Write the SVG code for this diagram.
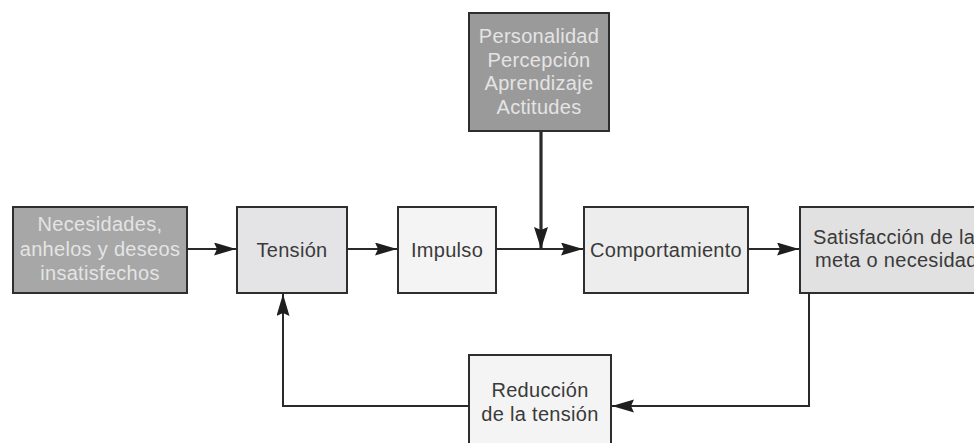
<svg xmlns="http://www.w3.org/2000/svg" width="974" height="443" viewBox="0 0 974 443">
  <style>
    .box { stroke: #2e2e2e; stroke-width: 2; }
    .dark { fill: #a7a7a7; }
    .darker { fill: #9a9a9a; }
    .lbl { font-family: "Liberation Sans", Arial, sans-serif; font-size: 20px; letter-spacing: 0.3px; text-anchor: middle; fill: #3a3a3a; }
    .inv { fill: #e4e4e4; }
    .wire { fill: none; stroke: #2a2a2a; stroke-width: 2; }
    .thick { fill: none; stroke: #2a2a2a; stroke-width: 3.2; }
  </style>
  <defs>
    <marker id="arrow" markerUnits="userSpaceOnUse" markerWidth="24" markerHeight="14" refX="22" refY="6.5" orient="auto">
      <path d="M0,0 L22,6.5 L0,13 L3,6.5 z" fill="#1e1e1e"/>
    </marker>
    <marker id="arrowBig" markerUnits="userSpaceOnUse" markerWidth="24" markerHeight="16" refX="22" refY="7" orient="auto">
      <path d="M0,0 L22,7 L0,14 L3,7 z" fill="#1e1e1e"/>
    </marker>
  </defs>

  <rect width="974" height="443" fill="#ffffff"/>

  <g id="necesidades">
    <rect class="box dark" x="13" y="207" width="174" height="86"/>
    <text class="lbl inv" x="100" y="231">Necesidades,</text>
    <text class="lbl inv" x="100" y="256">anhelos y deseos</text>
    <text class="lbl inv" x="100" y="280">insatisfechos</text>
  </g>

  <g id="tension">
    <rect class="box" fill="#e4e4e6" x="237" y="207" width="110" height="86"/>
    <text class="lbl" x="292" y="257">Tensión</text>
  </g>

  <g id="impulso">
    <rect class="box" fill="#f4f4f4" x="398" y="207" width="98" height="86"/>
    <text class="lbl" x="447" y="257">Impulso</text>
  </g>

  <g id="factores">
    <rect class="box darker" x="469" y="13" width="140" height="118"/>
    <text class="lbl inv" x="539" y="43">Personalidad</text>
    <text class="lbl inv" x="539" y="67">Percepción</text>
    <text class="lbl inv" x="539" y="90">Aprendizaje</text>
    <text class="lbl inv" x="539" y="114">Actitudes</text>
  </g>

  <g id="comportamiento">
    <rect class="box" fill="#ecedec" x="584" y="207" width="164" height="86"/>
    <text class="lbl" x="666" y="257">Comportamiento</text>
  </g>

  <g id="satisfaccion">
    <rect class="box" fill="#e1e1e1" x="800" y="207" width="190" height="86"/>
    <text class="lbl" x="813" y="244" style="text-anchor:start">Satisfacción de la</text>
    <text class="lbl" x="815" y="267" style="text-anchor:start">meta o necesidad</text>
  </g>

  <g id="reduccion">
    <rect class="box" fill="#f4f4f4" x="469" y="355" width="142" height="100"/>
    <text class="lbl" x="540" y="397">Reducción</text>
    <text class="lbl" x="540" y="421">de la tensión</text>
  </g>

  <g id="connectors">
    <line class="wire" x1="187" y1="249" x2="236" y2="249" marker-end="url(#arrow)"/>
    <line class="wire" x1="347" y1="249" x2="397" y2="249" marker-end="url(#arrow)"/>
    <line class="wire" x1="496" y1="249" x2="583" y2="249" marker-end="url(#arrow)"/>
    <line class="wire" x1="748" y1="249" x2="799" y2="249" marker-end="url(#arrow)"/>
    <line class="thick" x1="541" y1="131" x2="541" y2="249" marker-end="url(#arrowBig)"/>
    <polyline class="wire" points="809,293 809,406 612,406" marker-end="url(#arrow)"/>
    <polyline class="wire" points="469,406 283,406 283,294" marker-end="url(#arrow)"/>
  </g>
</svg>
